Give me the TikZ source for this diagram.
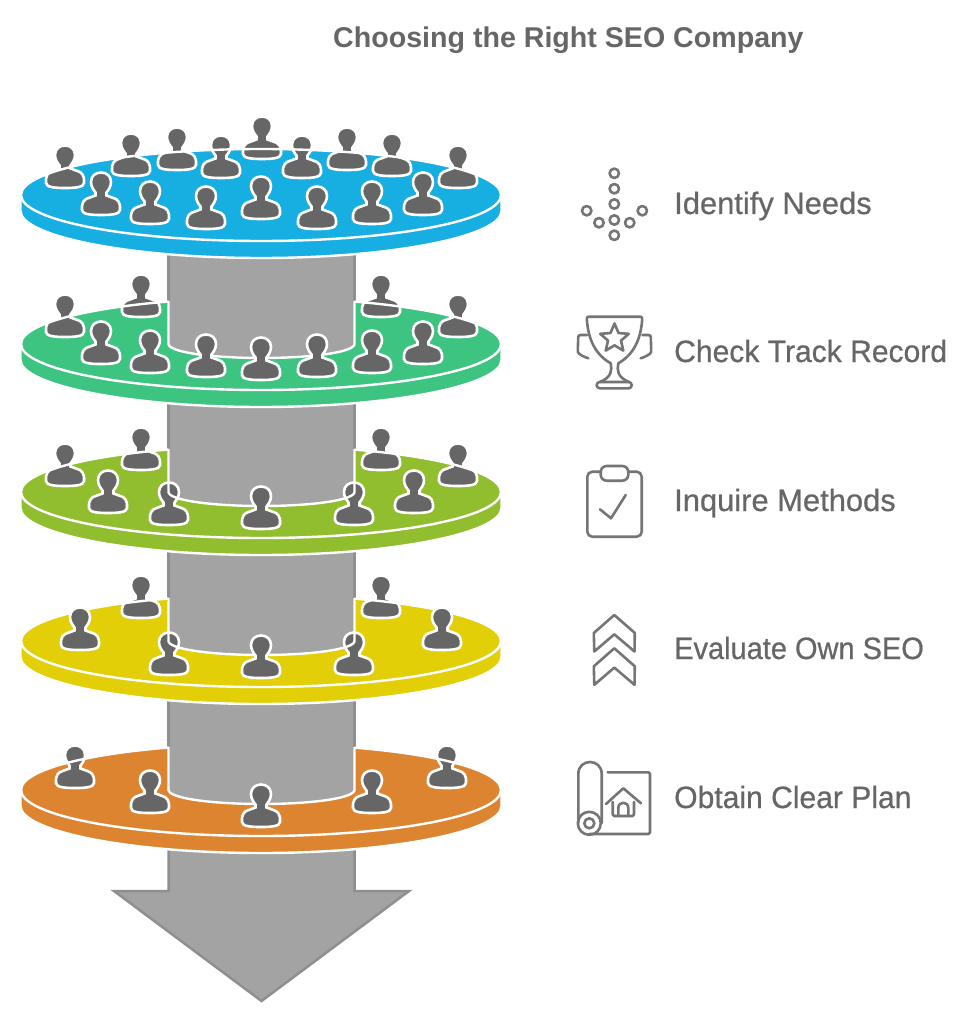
\documentclass[tikz,border=0pt]{standalone}
\usepackage{fontspec}
\setmainfont{Liberation Sans}
\newfontfamily\labelfont[FakeBold=0.6]{Liberation Sans}
\usepackage{tikz}
\usetikzlibrary{shapes.geometric}

\definecolor{discblue}{HTML}{17AEE2}
\definecolor{discgreen}{HTML}{3CC480}
\definecolor{disclime}{HTML}{90BE2E}
\definecolor{discyellow}{HTML}{E2CF08}
\definecolor{discorange}{HTML}{DD8430}
\definecolor{columngrey}{HTML}{A3A3A3}
\definecolor{edgegrey}{HTML}{8F8F8F}
\definecolor{persongrey}{HTML}{666666}
\definecolor{icongrey}{HTML}{757575}
\definecolor{textgrey}{HTML}{666666}

\tikzset{
  personshape/.style={draw=white, fill=persongrey, line width=2.6pt},
  whiteline/.style={white, line width=2.4pt},
  edgeline/.style={edgegrey, line width=2.5pt},
  iconline/.style={icongrey, line width=2.6pt, line join=round, line cap=round},
  steplabel/.style={anchor=base west, inner sep=0pt, text=textgrey, font=\labelfont\fontsize{30.9}{31}\selectfont},
}

\newcommand{\seoperson}[2]{
  \draw[personshape, shift={(#1,#2)}] (-19,-5) .. controls (-19.5,-13) and (-17,-16) .. (-11,-17.5)
    -- (-5.5,-19.5) -- (-5.5,-22.5) .. controls (-7,-24.5) and (-10,-28) .. (-10,-33)
    .. controls (-10,-39) and (-5.5,-42.5) .. (0,-42.5) .. controls (5.5,-42.5) and (10,-39) .. (10,-33)
    .. controls (10,-28) and (7,-24.5) .. (5.5,-22.5) -- (5.5,-19.5) -- (11,-17.5)
    .. controls (17,-16) and (19.5,-13) .. (19,-5) .. controls (19,-0.5) and (9,0) .. (0,0)
    .. controls (-9,0) and (-19,-0.5) .. (-19,-5) -- cycle;
}

\newcommand{\seobody}[2]{
  \draw[whiteline, fill=#2] (20.5,#1) -- (20.5,#1+16) .. controls (20.5,#1+41) and (128,#1+63) .. (261,#1+63)
    .. controls (394,#1+63) and (501.5,#1+41) .. (501.5,#1+16) -- (501.5,#1) -- cycle;
  \fill[#2] (261,#1) ellipse [x radius=240.5, y radius=46];
}

\newcommand{\seodisc}[4]{
  \seobody{#1}{#2}
  \fill[columngrey] (168.5,#1-95) -- (168.5,#1) .. controls (168.5,#1+8) and (210,#1+14) .. (261.5,#1+14)
    .. controls (313,#1+14) and (354.5,#1+8) .. (354.5,#1) -- (354.5,#1-95) -- cycle;
  \draw[edgeline] (168.5,#1-95) -- (168.5,#1-40);
  \draw[edgeline] (354.5,#1-95) -- (354.5,#1-40);
  \foreach \px/\py in {#3} {\seoperson{\px}{\py}}
  \begin{scope}
    \clip (0,#1-60) rectangle (168.5,#1) (354.5,#1-60) rectangle (520,#1) (0,#1) rectangle (520,#1+60);
    \draw[whiteline] (261,#1) ellipse [x radius=240, y radius=46];
  \end{scope}
  \draw[whiteline] (168.5,#1-43) -- (168.5,#1) .. controls (168.5,#1+8) and (210,#1+14) .. (261.5,#1+14)
    .. controls (313,#1+14) and (354.5,#1+8) .. (354.5,#1) -- (354.5,#1-43);
  \foreach \px/\py in {#4} {\seoperson{\px}{\py}}
}

\begin{document}
\begin{tikzpicture}[x=1pt, y=-1pt]

  \useasboundingbox (0,0) rectangle (968,1024);

  \node[inner sep=0pt, anchor=base west, text=textgrey, font=\fontsize{28.6}{29}\selectfont\bfseries] (title) at (333,47.5) {Choosing the Right SEO Company};

  % arrow
  \draw[edgeline, fill=columngrey, line join=miter] (168.5,845) -- (168.5,891) -- (114,891) -- (261.5,1001) -- (409,891) -- (354.5,891) -- (354.5,845);

  % discs, from the bottom up
  \seodisc{790}{discorange}{75/788, 447/788}{150/813, 372/813, 261/827}
  \seodisc{641}{discyellow}{141/618, 381/618, 169/675, 354/675}{80/650, 442/650, 261/678}
  \seodisc{492}{disclime}{65/486, 458/486, 141/470, 381/470, 169/525, 354/525}{108/513, 414/513, 261/529}
  \seodisc{344}{discgreen}{65/337, 458/337, 141/317, 381/317}{101/364, 423/364, 150/373, 372/373, 206/377, 317/377, 261/380}

  \seobody{195}{discblue}
  \foreach \px/\py in {65/188, 458/188, 131/176, 392/176, 177/170, 347/170, 221/178, 302/178, 262/159,
    101/215, 423/215, 150/224, 372/224, 206/229, 317/229, 261/219} {\seoperson{\px}{\py}}
  \draw[whiteline] (261,195) ellipse [x radius=240, y radius=46];

  % labels
  \node[steplabel] (needs) at (674,214) {Identify Needs};
  \node[steplabel, xscale=0.973, transform shape] (record) at (674,362) {Check Track Record};
  \node[steplabel] (methods) at (674,511) {Inquire Methods};
  \node[steplabel, xscale=0.938, transform shape] (ownseo) at (674,659) {Evaluate Own SEO};
  \node[steplabel, xscale=0.973, transform shape] (plan) at (674,808) {Obtain Clear Plan};

  % dots icon
  \foreach \dx/\dy in {614.3/173.3, 614.3/188.7, 614.3/204, 614.3/220, 614.3/235.3, 599/222.7, 629.7/222.7, 586.7/210.7, 642.3/210.7}
    \draw[iconline] (\dx,\dy) circle [radius=4.7];

  % trophy icon
  \draw[iconline, rounded corners=2pt] (610.7,363.3) .. controls (596,355) and (588,340) .. (586.7,316.7) -- (642.3,316.7)
    .. controls (641,340) and (633,355) .. (618.3,363.3);
  \draw[iconline] (610.7,363.3) .. controls (612,370) and (612,377) .. (600,382);
  \draw[iconline] (618.3,363.3) .. controls (617,370) and (617,377) .. (629,382);
  \draw[iconline, rounded corners=3pt] (596.7,382) rectangle (631.7,388.3);
  \draw[iconline, rounded corners=2pt] (587,335) -- (578.3,335) -- (577.8,350) .. controls (578,354) and (584,357) .. (588.3,358.3);
  \draw[iconline, rounded corners=2pt] (642.3,335) -- (650.7,335) -- (651.2,350) .. controls (651,354) and (645,357) .. (640.7,358.3);
  \node[star, star points=5, star point ratio=2.2, draw=icongrey, line width=2.6pt, line join=round, minimum size=30pt, inner sep=0pt] (trophystar) at (614.5,338.5) {};

  % clipboard icon
  \draw[iconline, rounded corners=5pt] (600.7,471.7) -- (587.3,471.7) -- (587.3,536.7) -- (641.7,536.7) -- (641.7,471.7) -- (628.3,471.7);
  \draw[iconline, rounded corners=6pt] (600.7,466) rectangle (628.3,480.7);
  \draw[iconline] (600,509.3) -- (611,518.3) -- (625.7,495);

  % chevrons icon
  \foreach \dy in {0,33.3}
    \draw[iconline] (614.3,615+\dy) -- (634.8,633+\dy) -- (634.5,651.5+\dy) -- (614.3,634.3+\dy) -- (594.3,651.5+\dy) -- (593.8,633+\dy) -- cycle;

  % plan icon
  \draw[iconline] (578.3,823) -- (578.3,774) .. controls (578.3,758) and (601.7,758) .. (601.7,774) -- (601.7,823);
  \draw[iconline] (589.3,823.3) circle [radius=11.5];
  \draw[iconline] (589.3,823.3) circle [radius=5];
  \draw[iconline, rounded corners=1.5pt] (607.7,772.3) -- (650,772.3) -- (650,834) -- (589.3,834);
  \draw[iconline] (606,804) -- (623.3,788.3) -- (641,803.3);
  \draw[iconline, rounded corners=1.5pt] (612.7,802) -- (612.7,816) -- (634,816) -- (634,802);
  \draw[iconline] (618.3,816) -- (618.3,808) .. controls (618.3,801) and (628.3,801) .. (628.3,808) -- (628.3,816);

\end{tikzpicture}
\end{document}
